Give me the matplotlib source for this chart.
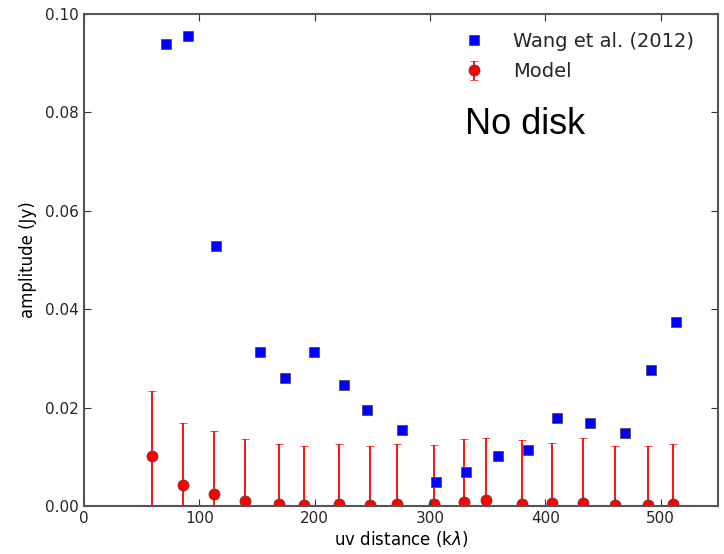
import numpy as np
import matplotlib.pyplot as plt

# Wang et al. (2012) visibility amplitudes
wang_uv = [70.8, 89.9, 114.8, 153.0, 173.9, 199.8, 225.9, 245.8, 276.0,
           305.6, 331.6, 359.3, 385.0, 410.2, 438.8, 469.2, 491.8, 513.5]
wang_amp = [0.0939, 0.0955, 0.0528, 0.0313, 0.0260, 0.0313, 0.0246, 0.0195, 0.0154,
            0.0049, 0.0069, 0.0102, 0.0114, 0.0179, 0.0169, 0.0148, 0.0276, 0.0374]

# model amplitudes with their errors
model_uv = [58.8, 86.1, 113.0, 139.8, 169.0, 190.6, 221.0, 247.6, 271.6,
            303.4, 329.3, 348.7, 379.9, 406.2, 433.0, 460.2, 488.8, 510.8]
model_amp = [0.0101, 0.0043, 0.0025, 0.0010, 0.0005, 0.0003, 0.0005, 0.0003, 0.0005,
             0.0005, 0.0008, 0.0012, 0.0005, 0.0006, 0.0006, 0.0003, 0.0003, 0.0005]
model_err = [0.0132, 0.0125, 0.0127, 0.0126, 0.0122, 0.0118, 0.0122, 0.0120, 0.0121,
             0.0120, 0.0129, 0.0127, 0.0130, 0.0123, 0.0133, 0.0120, 0.0120, 0.0122]

plt.rcParams['font.family'] = 'DejaVu Sans'
plt.rcParams['xtick.direction'] = 'in'
plt.rcParams['ytick.direction'] = 'in'
plt.rcParams['text.color'] = '#262626'

fig = plt.figure(figsize=(7.24, 5.54), dpi=100)
ax = fig.add_axes([0.116, 0.0866, 0.876, 0.888])

ax.plot(wang_uv, wang_amp, 's', color='blue', markersize=7.5,
        markeredgecolor='#444444', markeredgewidth=0.5, label='Wang et al. (2012)')
ax.errorbar(model_uv, model_amp, yerr=model_err, fmt='o', color='red',
            ecolor='red', elinewidth=1.3, capsize=3, capthick=1,
            markersize=8, markeredgecolor='#444444', markeredgewidth=0.5,
            label='Model', zorder=1)

ax.text(330, 0.0756, 'No disk', fontsize=26, family='Liberation Sans', color='black')

ax.set_xlim(0, 550)
ax.set_ylim(0, 0.10)
ax.set_xticks([0, 100, 200, 300, 400, 500])
ax.set_yticks(np.arange(0, 0.101, 0.02))
ax.set_yticklabels(['0.00', '0.02', '0.04', '0.06', '0.08', '0.10'])
ax.tick_params(top=True, right=True, labelsize=11, length=5, color='#333333',
               labelcolor='#262626')
for s in ax.spines.values():
    s.set_color('#555555')
    s.set_linewidth(1.5)

ax.set_xlabel(r'uv distance (k$\lambda$)', fontsize=12, labelpad=2)
ax.set_ylabel('amplitude (Jy)', fontsize=12, labelpad=6)

ax.legend(loc='upper right', bbox_to_anchor=(0.99, 1.0), frameon=False,
          numpoints=1, fontsize=14, handletextpad=1.0, labelspacing=0.6)

fig.savefig('out.png', dpi=100)
